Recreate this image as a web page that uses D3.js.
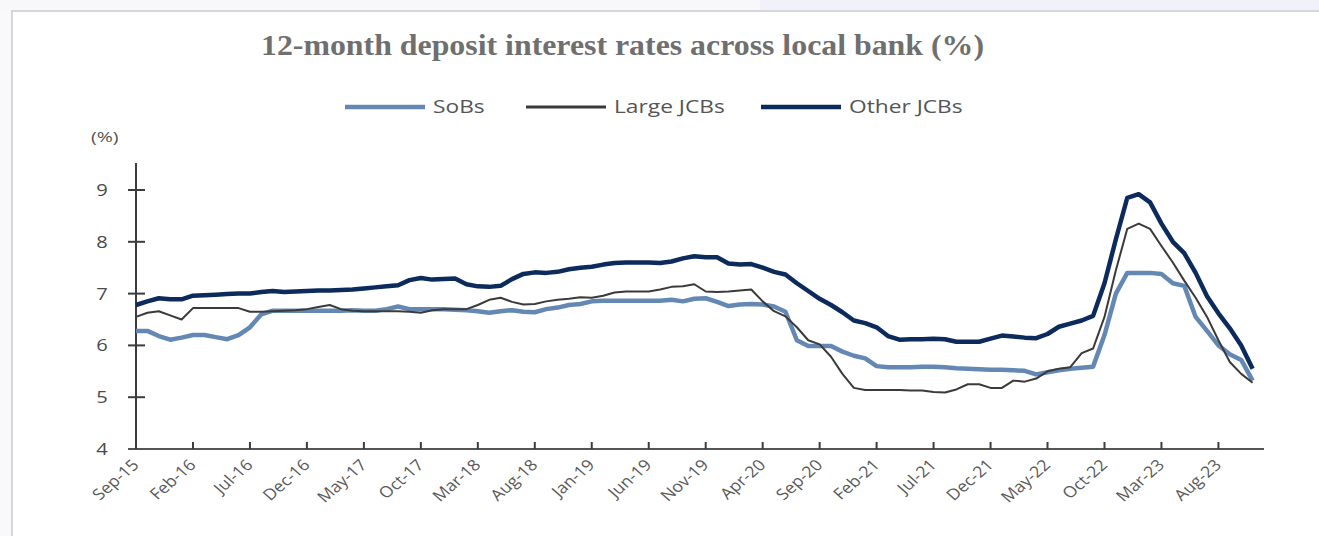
<!DOCTYPE html>
<html>
<head>
<meta charset="utf-8">
<script src="https://cdn.jsdelivr.net/npm/d3@7"></script>
<style>
  html, body { margin: 0; padding: 0; background: #fff; }
  text { font-family: "Open Sans", "DejaVu Sans", sans-serif; }
</style>
</head>
<body>
<svg id="chart"></svg>
<script>
// monthly data, Sep-15 .. Nov-23
const sobs = [
  6.28, 6.28, 6.18, 6.11, 6.15, 6.20, 6.20, 6.16, 6.12, 6.20,
  6.35, 6.60, 6.67, 6.67, 6.67, 6.67, 6.67, 6.67, 6.67, 6.68,
  6.67, 6.67, 6.70, 6.75, 6.70, 6.70, 6.70, 6.70, 6.69, 6.68,
  6.66, 6.63, 6.66, 6.68, 6.65, 6.64, 6.70, 6.73, 6.78, 6.80,
  6.85, 6.86, 6.86, 6.86, 6.86, 6.86, 6.86, 6.88, 6.85, 6.90,
  6.91, 6.84, 6.76, 6.79, 6.80, 6.79, 6.75, 6.65, 6.10, 5.99,
  5.99, 5.99, 5.88, 5.80, 5.75, 5.60, 5.58, 5.58, 5.58, 5.59,
  5.59, 5.58, 5.56, 5.55, 5.54, 5.53, 5.53, 5.52, 5.51, 5.44,
  5.48, 5.52, 5.55, 5.57, 5.59, 6.20, 7.00, 7.40, 7.40, 7.40,
  7.38, 7.20, 7.15, 6.55, 6.28, 6.00, 5.83, 5.72, 5.32
];
const largeJCBs = [
  6.55, 6.63, 6.66, 6.58, 6.50, 6.72, 6.72, 6.72, 6.72, 6.72,
  6.65, 6.65, 6.66, 6.67, 6.68, 6.70, 6.74, 6.78, 6.70, 6.67,
  6.66, 6.66, 6.66, 6.66, 6.65, 6.63, 6.68, 6.70, 6.70, 6.70,
  6.78, 6.88, 6.92, 6.84, 6.79, 6.80, 6.85, 6.88, 6.90, 6.93,
  6.92, 6.96, 7.02, 7.04, 7.04, 7.04, 7.08, 7.13, 7.14, 7.18,
  7.04, 7.03, 7.04, 7.06, 7.08, 6.85, 6.66, 6.56, 6.35, 6.10,
  6.02, 5.78, 5.45, 5.18, 5.14, 5.14, 5.14, 5.14, 5.13, 5.13,
  5.10, 5.09, 5.15, 5.25, 5.25, 5.18, 5.18, 5.32, 5.30, 5.36,
  5.50, 5.55, 5.58, 5.85, 5.94, 6.55, 7.45, 8.25, 8.35, 8.25,
  7.92, 7.60, 7.25, 6.92, 6.55, 6.10, 5.68, 5.45, 5.28
];
const otherJCBs = [
  6.78, 6.85, 6.91, 6.89, 6.89, 6.96, 6.97, 6.98, 6.99, 7.00,
  7.00, 7.03, 7.05, 7.03, 7.04, 7.05, 7.06, 7.06, 7.07, 7.08,
  7.10, 7.12, 7.14, 7.16, 7.26, 7.30, 7.27, 7.28, 7.29, 7.18,
  7.14, 7.13, 7.15, 7.28, 7.38, 7.41, 7.40, 7.42, 7.47, 7.50,
  7.52, 7.56, 7.59, 7.60, 7.60, 7.60, 7.59, 7.62, 7.68, 7.72,
  7.70, 7.70, 7.58, 7.56, 7.57, 7.50, 7.42, 7.37, 7.20, 7.05,
  6.90, 6.78, 6.64, 6.48, 6.43, 6.35, 6.18, 6.11, 6.12, 6.12,
  6.13, 6.12, 6.07, 6.07, 6.07, 6.13, 6.19, 6.17, 6.15, 6.14,
  6.22, 6.36, 6.42, 6.48, 6.57, 7.20, 8.05, 8.85, 8.92, 8.76,
  8.35, 8.00, 7.78, 7.40, 6.95, 6.62, 6.33, 6.00, 5.55
];
const tickLabels = [
  "Sep-15", "Feb-16", "Jul-16", "Dec-16", "May-17", "Oct-17", "Mar-18",
  "Aug-18", "Jan-19", "Jun-19", "Nov-19", "Apr-20", "Sep-20", "Feb-21",
  "Jul-21", "Dec-21", "May-22", "Oct-22", "Mar-23", "Aug-23"
];
const yTicks = [4, 5, 6, 7, 8, 9];
const seriesNames = ["SoBs", "Large JCBs", "Other JCBs"];

const width = 1319,
  height = 536;
const stretch = 1.3; // source picture is stretched horizontally

const svg = d3.select("#chart").attr("width", width).attr("height", height);

// screenshot frame
svg.append("rect").attr("x", 0).attr("y", 0).attr("width", width).attr("height", 10).attr("fill", "#f8f8fb");
svg.append("rect").attr("x", 760).attr("y", 0).attr("width", width - 760).attr("height", 10).attr("fill", "#f0f1fb");
svg.append("rect").attr("x", 0).attr("y", 10).attr("width", 11).attr("height", height - 10).attr("fill", "#f9f9fb");
svg.append("line").attr("x1", 11).attr("x2", width).attr("y1", 11).attr("y2", 11).attr("stroke", "#d6d6d6").attr("stroke-width", 2);
svg.append("line").attr("x1", 12).attr("x2", 12).attr("y1", 10).attr("y2", height).attr("stroke", "#d6d6d6").attr("stroke-width", 2);

const x = d3.scaleLinear().domain([0, 99]).range([136, 1264]);
const y = d3.scaleLinear().domain([4, 9]).range([449, 190]);

// title
svg.append("text")
  .attr("x", 261)
  .attr("y", 55)
  .attr("textLength", 723)
  .attr("lengthAdjust", "spacingAndGlyphs")
  .style("font-family", "'Liberation Serif', 'DejaVu Serif', serif")
  .style("font-weight", "bold")
  .style("font-size", "30px")
  .attr("fill", "#6f6f6f")
  .text("12-month deposit interest rates across local bank (%)");

// legend
const legendX = [345, 526, 761];
const colors = ["#6488b4", "#3a3a3a", "#0c2b5c"];
const widths = [4.5, 2, 4.5];
const legend = svg.append("g");
seriesNames.forEach((name, i) => {
  legend.append("line")
    .attr("x1", legendX[i]).attr("x2", legendX[i] + 80)
    .attr("y1", 107).attr("y2", 107)
    .attr("stroke", colors[i])
    .attr("stroke-width", i === 1 ? 3 : 4.5);
  legend.append("text")
    .attr("transform", `translate(${legendX[i] + 88},113) scale(${stretch},1)`)
    .style("font-size", "17.5px")
    .attr("fill", "#555")
    .text(name);
});

// y axis
svg.append("text")
  .attr("transform", `translate(91,142) scale(${stretch},1)`)
  .style("font-size", "15px")
  .attr("fill", "#555")
  .text("(%)");

const yAxis = svg.append("g");
yAxis.append("line")
  .attr("x1", x(0)).attr("x2", x(0))
  .attr("y1", 163).attr("y2", y(4))
  .attr("stroke", "#3c3c3c").attr("stroke-width", 2);
yAxis.selectAll(".ytick")
  .data(yTicks)
  .join("line")
  .attr("class", "ytick")
  .attr("x1", x(0) - 8).attr("x2", x(0) + 9)
  .attr("y1", (d) => y(d)).attr("y2", (d) => y(d))
  .attr("stroke", "#3c3c3c").attr("stroke-width", 2);
yAxis.selectAll(".ylab")
  .data(yTicks)
  .join("text")
  .attr("class", "ylab")
  .attr("transform", (d) => `translate(102,${y(d) + 6}) scale(${stretch},1)`)
  .attr("text-anchor", "middle")
  .style("font-size", "15.5px")
  .attr("fill", "#4a4a4a")
  .text((d) => d);

// x axis
const xAxis = svg.append("g");
xAxis.append("line")
  .attr("x1", 128).attr("x2", x(99))
  .attr("y1", y(4)).attr("y2", y(4))
  .attr("stroke", "#555").attr("stroke-width", 2);
xAxis.selectAll(".xtick")
  .data(tickLabels)
  .join("line")
  .attr("class", "xtick")
  .attr("x1", (d, i) => x(i * 5)).attr("x2", (d, i) => x(i * 5))
  .attr("y1", y(4) - 7).attr("y2", y(4))
  .attr("stroke", "#3c3c3c").attr("stroke-width", 2);
xAxis.selectAll(".xlab")
  .data(tickLabels)
  .join("text")
  .attr("class", "xlab")
  .attr("transform", (d, i) => `translate(${x(i * 5) + 4},466) scale(1.15,1) rotate(-45)`)
  .attr("text-anchor", "end")
  .style("font-size", "15.5px")
  .attr("fill", "#5a5a5a")
  .text((d) => d);

// lines
const line = d3.line().x((d, i) => x(i)).y((d) => y(d));
[sobs, largeJCBs, otherJCBs].forEach((values, i) => {
  svg.append("path")
    .datum(values)
    .attr("d", line)
    .attr("fill", "none")
    .attr("stroke", colors[i])
    .attr("stroke-width", widths[i])
    .attr("stroke-linejoin", "round");
});
</script>
</body>
</html>
